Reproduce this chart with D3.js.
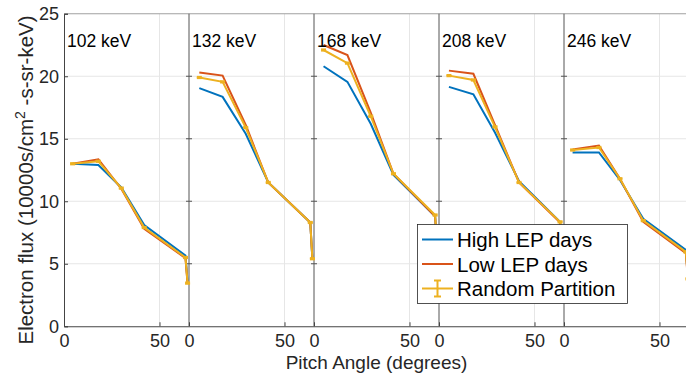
<!DOCTYPE html>
<html>
<head>
<meta charset="utf-8">
<script src="https://cdn.jsdelivr.net/npm/d3@7"></script>
<style>
  body { margin: 0; background: #fff; }
  svg { font-family: "Liberation Sans", Arial, Helvetica, sans-serif; }
</style>
</head>
<body>
<svg id="chart" width="686" height="374"></svg>
<script>
// Panels (energy channels) and their pitch-angle samples
const energies = ["102 keV", "132 keV", "168 keV", "208 keV", "246 keV"];
const pitch = [
  [4.5, 18, 30, 42, 63.6, 64.7],
  [5.4, 17.6, 29.7, 41.5, 63.5, 64.6],
  [5.0, 17.5, 29.7, 41.6, 63.4, 64.6],
  [5.2, 18.0, 29.3, 41.9, 63.4, 64.6],
  [4.5, 18.3, 29.3, 41.5, 63.8, 64.9]
];
// Electron flux series (10000s/cm^2-s-sr-keV)
const highLEP = [
  [13.0, 12.9, 11.1, 8.1, 5.65, 3.6],
  [19.05, 18.35, 15.4, 11.5, 8.3, 5.4],
  [20.8, 19.55, 16.2, 12.1, 8.8, 6.0],
  [19.15, 18.55, 15.5, 11.6, 8.35, 6.8],
  [13.9, 13.9, 11.7, 8.6, 6.1, 4.0]
];
const lowLEP = [
  [13.0, 13.35, 11.0, 7.8, 5.45, 3.4],
  [20.3, 20.05, 16.1, 11.5, 8.3, 5.4],
  [22.5, 21.7, 17.1, 12.2, 8.8, 6.0],
  [20.45, 20.2, 16.1, 11.5, 8.3, 6.8],
  [14.15, 14.45, 11.8, 8.35, 5.85, 3.7]
];
const randomPart = [
  [13.0, 13.2, 11.05, 7.9, 5.5, 3.45],
  [19.9, 19.55, 15.9, 11.5, 8.3, 5.4],
  [22.1, 21.05, 16.8, 12.2, 8.9, 6.0],
  [20.05, 19.7, 15.95, 11.5, 8.35, 6.8],
  [14.1, 14.3, 11.8, 8.45, 5.95, 3.8]
];
const randomErr = [
  [0.05, 0.05, 0.05, 0.05, 0.05, 0.05],
  [0.05, 0.05, 0.05, 0.05, 0.05, 0.05],
  [0.05, 0.05, 0.05, 0.05, 0.05, 0.05],
  [0.05, 0.05, 0.05, 0.05, 0.05, 0.05],
  [0.05, 0.05, 0.05, 0.05, 0.05, 0.05]
];
const yTicks = [0, 5, 10, 15, 20, 25];
const xTickLabels = [0, 50];
const seriesNames = ["High LEP days", "Low LEP days", "Random Partition"];
const colors = ["#0072BD", "#D95319", "#EDB120"];

const panelWidth = 65.45; // degrees spanned by one panel
const margin = { left: 64, top: 13.75, bottom: 326.25 };

const svg = d3.select("#chart");

const x = d3.scaleLinear()
  .domain([0, panelWidth * energies.length])
  .range([margin.left, margin.left + 125 * energies.length]);
const y = d3.scaleLinear().domain([0, 25]).range([margin.bottom, margin.top]);

const xRight = x.range()[1];

// grid
const grid = svg.append("g");
yTicks.filter(d => d > 0 && d < 25).forEach(d => {
  grid.append("line")
    .attr("x1", x(0)).attr("x2", xRight)
    .attr("y1", y(d)).attr("y2", y(d))
    .attr("stroke", "#e6e6e6").attr("stroke-width", 1);
});
energies.forEach((e, i) => {
  grid.append("line")
    .attr("x1", x(i * panelWidth + 50)).attr("x2", x(i * panelWidth + 50))
    .attr("y1", y(0)).attr("y2", y(25))
    .attr("stroke", "#e6e6e6").attr("stroke-width", 1);
});

// top border
svg.append("line")
  .attr("x1", x(0)).attr("x2", xRight)
  .attr("y1", y(25)).attr("y2", y(25))
  .attr("stroke", "#a0a0a0").attr("stroke-width", 1);

// panel separators with small crossing ticks
for (let i = 1; i < energies.length; i++) {
  const px = x(i * panelWidth);
  svg.append("line")
    .attr("x1", px).attr("x2", px)
    .attr("y1", y(0)).attr("y2", y(25))
    .attr("stroke", "#555").attr("stroke-width", 1);
  yTicks.filter(d => d > 0 && d < 25).forEach(d => {
    svg.append("line")
      .attr("x1", px - 3).attr("x2", px + 3)
      .attr("y1", y(d)).attr("y2", y(d))
      .attr("stroke", "#555").attr("stroke-width", 1);
  });
}

// y axis
const yAxis = svg.append("g")
  .attr("transform", `translate(${x(0)},0)`)
  .call(d3.axisLeft(y).tickValues(yTicks).tickSize(-4).tickPadding(5).tickFormat(d3.format("d")));
yAxis.select(".domain").attr("stroke", "#444");
yAxis.selectAll(".tick line").attr("stroke", "#444");
yAxis.selectAll("text").attr("font-size", 18).attr("fill", "#262626");

// x axis: 0 and 50 in every panel
const xTickVals = [];
energies.forEach((e, i) => xTickLabels.forEach(t => xTickVals.push(i * panelWidth + t)));
const xAxis = svg.append("g")
  .attr("transform", `translate(0,${y(0)})`)
  .call(d3.axisBottom(x).tickValues(xTickVals).tickSize(-4).tickPadding(8)
    .tickFormat(d => Math.round(d % panelWidth) >= 40 ? "50" : "0"));
xAxis.select(".domain").attr("stroke", "#444");
xAxis.selectAll(".tick line").attr("stroke", "#444");
xAxis.selectAll("text").attr("font-size", 18).attr("fill", "#262626");

// series
const series = [highLEP, lowLEP, randomPart];
const line = d3.line().x(d => x(d[0])).y(d => y(d[1]));
series.forEach((s, k) => {
  energies.forEach((e, i) => {
    const pts = pitch[i].map((p, j) => [i * panelWidth + p, s[i][j]]);
    svg.append("path")
      .attr("d", line(pts))
      .attr("fill", "none")
      .attr("stroke", colors[k])
      .attr("stroke-width", 2);
  });
});

// error bars on random partition
energies.forEach((e, i) => {
  pitch[i].forEach((p, j) => {
    const cx = x(i * panelWidth + p);
    const v = randomPart[i][j], err = randomErr[i][j];
    const g = svg.append("g").attr("stroke", colors[2]).attr("stroke-width", 2);
    g.append("line").attr("x1", cx).attr("x2", cx).attr("y1", y(v - err)).attr("y2", y(v + err));
    g.append("line").attr("x1", cx - 2.5).attr("x2", cx + 2.5).attr("y1", y(v - err)).attr("y2", y(v - err));
    g.append("line").attr("x1", cx - 2.5).attr("x2", cx + 2.5).attr("y1", y(v + err)).attr("y2", y(v + err));
  });
});

// panel labels
energies.forEach((e, i) => {
  svg.append("text")
    .attr("x", x(i * panelWidth) + 3)
    .attr("y", 46.5)
    .attr("font-size", 17.5)
    .attr("fill", "#000")
    .text(e);
});

// axis labels
svg.append("text")
  .attr("x", (x(0) + xRight) / 2)
  .attr("y", 369)
  .attr("text-anchor", "middle")
  .attr("font-size", 19)
  .attr("fill", "#262626")
  .text("Pitch Angle (degrees)");

const yl = svg.append("text")
  .attr("transform", `translate(33,180) rotate(-90)`)
  .attr("text-anchor", "middle")
  .attr("font-size", 20.5)
  .attr("fill", "#262626");
yl.append("tspan").text("Electron flux (10000s/cm");
yl.append("tspan").attr("font-size", 14).attr("dy", -8).text("2");
yl.append("tspan").attr("dy", 8).text(" -s-sr-keV)");

// legend
const legend = svg.append("g");
legend.append("rect")
  .attr("x", 417.5).attr("y", 224.5).attr("width", 210).attr("height", 79)
  .attr("fill", "#fff").attr("stroke", "#262626").attr("stroke-width", 0.8);
seriesNames.forEach((name, k) => {
  const ly = 239.5 + k * 24.5;
  legend.append("line")
    .attr("x1", 422).attr("x2", 453).attr("y1", ly).attr("y2", ly)
    .attr("stroke", colors[k]).attr("stroke-width", 2);
  if (k === 2) {
    const g = legend.append("g").attr("stroke", colors[k]).attr("stroke-width", 2);
    g.append("line").attr("x1", 437.5).attr("x2", 437.5).attr("y1", ly - 8).attr("y2", ly + 8);
    g.append("line").attr("x1", 434).attr("x2", 441).attr("y1", ly - 8).attr("y2", ly - 8);
    g.append("line").attr("x1", 434).attr("x2", 441).attr("y1", ly + 8).attr("y2", ly + 8);
  }
  legend.append("text")
    .attr("x", 457).attr("y", ly + 7.5)
    .attr("font-size", 20.5)
    .attr("fill", "#000")
    .text(name);
});
</script>
</body>
</html>
